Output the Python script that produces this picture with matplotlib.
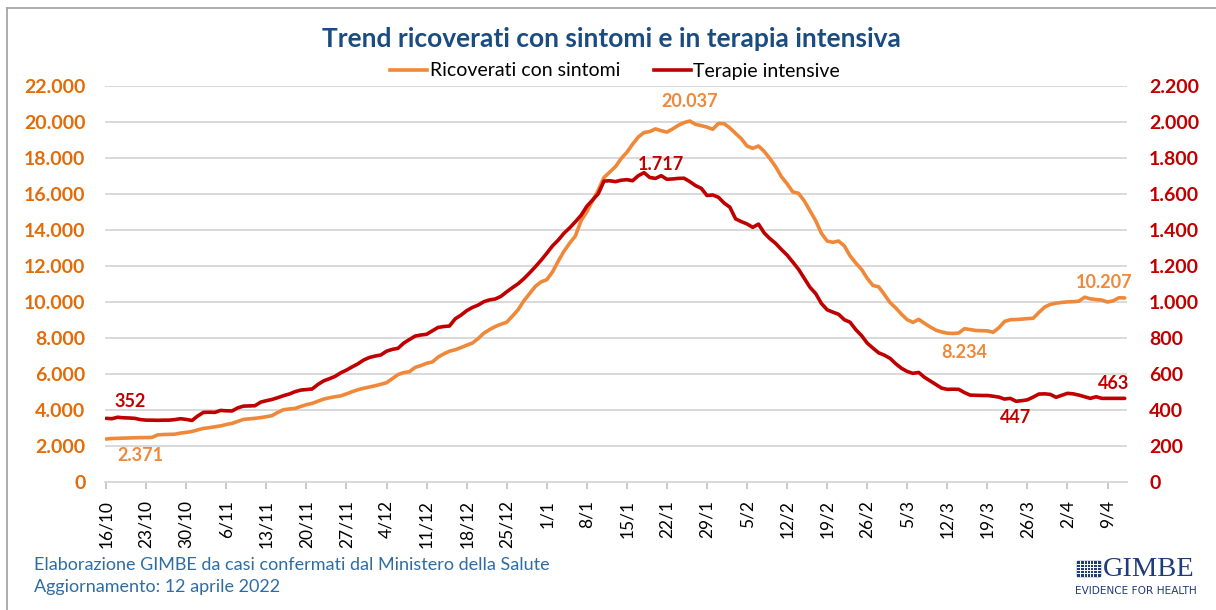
import matplotlib
matplotlib.use("Agg")
import matplotlib.pyplot as plt
from matplotlib.lines import Line2D
from matplotlib.patches import Rectangle
import pandas as pd

plt.rcParams['font.family'] = ['Lato', 'DejaVu Sans']

# daily values 16/10/2021 - 12/4/2022
dates = pd.date_range('2021-10-16', '2022-04-12', freq='D')

ricoverati = [
    2371, 2400, 2410, 2420, 2430, 2440, 2450, 2450, 2460, 2600,
    2620, 2630, 2640, 2700, 2740, 2790, 2880, 2960, 3000, 3050,
    3100, 3180, 3240, 3350, 3460, 3490, 3520, 3560, 3610, 3670,
    3850, 4000, 4040, 4070, 4180, 4280, 4350, 4470, 4590, 4660,
    4720, 4770, 4880, 5000, 5110, 5190, 5260, 5330, 5410, 5500,
    5720, 5950, 6060, 6110, 6350, 6450, 6580, 6650, 6920, 7100,
    7250, 7330, 7450, 7580, 7700, 7950, 8250, 8450, 8620, 8750,
    8860, 9200, 9560, 10050, 10450, 10850, 11100, 11220, 11650, 12250,
    12800, 13250, 13650, 14500, 15000, 15600, 16200, 16900, 17200, 17500,
    17950, 18300, 18750, 19150, 19400, 19450, 19600, 19500, 19420, 19600,
    19800, 19950, 20037, 19850, 19780, 19700, 19580, 19900, 19890, 19650,
    19350, 19050, 18650, 18520, 18650, 18350, 17950, 17500, 16950, 16550,
    16100, 16020, 15600, 15050, 14500, 13800, 13370, 13300, 13370, 13100,
    12550, 12150, 11800, 11300, 10900, 10830, 10400, 9950, 9650, 9300,
    9000, 8850, 9020, 8800, 8600, 8420, 8320, 8250, 8234, 8260,
    8500, 8450, 8400, 8390, 8380, 8300, 8550, 8900, 9000, 9010,
    9030, 9060, 9080, 9400, 9700, 9850, 9920, 9960, 9990, 10000,
    10030, 10250, 10160, 10120, 10090, 9980, 10050, 10220, 10207,
]

terapie = [
    352, 350, 358, 355, 354, 352, 345, 342, 342, 341,
    342, 342, 345, 350, 346, 340, 365, 385, 386, 385,
    396, 394, 393, 410, 420, 421, 422, 442, 450, 457,
    467, 478, 487, 500, 509, 512, 515, 540, 560, 572,
    585, 605, 620, 638, 655, 676, 690, 698, 704, 725,
    735, 741, 770, 790, 809, 815, 819, 838, 857, 862,
    865, 905, 925, 950, 968, 981, 1000, 1010, 1015, 1030,
    1055, 1078, 1100, 1128, 1160, 1194, 1230, 1269, 1310, 1342,
    1380, 1410, 1444, 1480, 1530, 1565, 1600, 1670, 1672, 1667,
    1675, 1678, 1672, 1700, 1717, 1690, 1685, 1700, 1680, 1682,
    1685, 1686, 1667, 1645, 1630, 1590, 1593, 1580, 1548, 1525,
    1460, 1445, 1432, 1413, 1431, 1382, 1350, 1324, 1290, 1259,
    1220, 1180, 1130, 1080, 1045, 990, 955, 942, 930, 900,
    886, 845, 812, 770, 742, 716, 703, 685, 655, 630,
    612, 602, 607, 580, 560, 540, 520, 513, 514, 513,
    495, 481, 480, 479, 479, 475, 470, 459, 463, 447,
    450, 455, 470, 487, 488, 485, 469, 480, 491, 488,
    481, 472, 463, 472, 463, 463, 463, 463, 463,
]

orange = '#F0883A'
red = '#C00000'
grid_c = '#D9D9D9'


def it_fmt(v):
    return f"{int(round(v)):,}".replace(',', '.')


days = list(range(len(dates)))

fig = plt.figure(figsize=(12.16, 6.10), dpi=100)
ax = fig.add_axes([105 / 1216, 1 - 481.7 / 610, (1127 - 105) / 1216, 396 / 610])
ax2 = ax.twinx()

ax.plot(days, ricoverati, color=orange, lw=2.6, solid_capstyle='round')
ax2.plot(days, terapie, color=red, lw=2.6, solid_capstyle='round')

ax.set_xlim(-0.2, 178.4)
ax.set_ylim(0, 22000)
ax2.set_ylim(0, 2200)

ax.set_yticks(range(0, 22001, 2000))
ax.set_yticklabels([it_fmt(v) for v in range(0, 22001, 2000)])
ax2.set_yticks(range(0, 2201, 200))
ax2.set_yticklabels([it_fmt(v) for v in range(0, 2201, 200)])

xt = days[::7]
ax.set_xticks(xt)
ax.set_xticklabels([f"{dates[i].day}/{dates[i].month}" for i in xt], rotation=90)

ax.yaxis.grid(True, color=grid_c, lw=1.4)
ax.set_axisbelow(True)
for a in (ax, ax2):
    for s in ('top', 'left', 'right', 'bottom'):
        a.spines[s].set_visible(False)
ax.spines['bottom'].set_visible(True)
ax.spines['bottom'].set_color(grid_c)
ax.spines['bottom'].set_linewidth(1.4)

ax.tick_params(axis='y', length=0, pad=14, labelsize=14, labelcolor='#E36C09')
ax2.tick_params(axis='y', length=0, pad=16, labelsize=14, labelcolor=red)
for lab in ax.get_yticklabels() + ax2.get_yticklabels():
    lab.set_fontweight('bold')
ax.tick_params(axis='x', direction='out', length=5, width=1.2, color='#BFBFBF',
               pad=8, labelsize=12.5, labelcolor='#000000')


# point labels
def lab(a, i, vals, dx, dy, color):
    a.annotate(it_fmt(vals[i]), xy=(i, vals[i]), xytext=(dx, dy),
               textcoords='offset points', ha='center', va='center',
               fontsize=13, fontweight='bold', color=color)


lab(ax2, 0, terapie, 17, 12, red)
lab(ax, 0, ricoverati, 25, -12, orange)
lab(ax, 102, ricoverati, 0, 14, orange)
lab(ax2, 94, terapie, 12, 6, red)
lab(ax, 148, ricoverati, 8, -14, orange)
lab(ax2, 159, terapie, 0, -12, red)
lab(ax, 178, ricoverati, -15, 11, orange)
lab(ax2, 178, terapie, -8, 11, red)

# legend
handles = [Line2D([], [], color=orange, lw=2.6), Line2D([], [], color=red, lw=2.6)]
fig.legend(handles, ['Ricoverati con sintomi', 'Terapie intensive'],
           loc='center', bbox_to_anchor=(0.506, 1 - 71 / 610), ncol=2,
           frameon=False, fontsize=14, handlelength=1.9, handletextpad=0.15,
           columnspacing=1.7)

fig.text(0.503, 1 - 39 / 610, 'Trend ricoverati con sintomi e in terapia intensiva',
         ha='center', va='center', fontsize=19, fontweight='bold', color='#1A4C80')

fig.text(34 / 1216, 1 - 565 / 610,
         'Elaborazione GIMBE da casi confermati dal Ministero della Salute',
         ha='left', va='center', fontsize=13, color='#2E6DA4')
fig.text(34 / 1216, 1 - 587 / 610, 'Aggiornamento: 12 aprile 2022',
         ha='left', va='center', fontsize=13, color='#2E6DA4')

# frame
fig.add_artist(Line2D([7 / 1216, 1], [1 - 8 / 610] * 2, color='#A6A6A6', lw=1.3,
                      transform=fig.transFigure))
fig.add_artist(Line2D([7 / 1216] * 2, [0, 1 - 8 / 610], color='#A6A6A6', lw=1.3,
                      transform=fig.transFigure))

# GIMBE logo
navy = '#1F3C78'
fig.add_artist(Rectangle((1077 / 1216, 1 - 576 / 610), 23 / 1216, 15 / 610,
                         color=navy, transform=fig.transFigure))
for c in range(1, 7):
    fig.add_artist(Line2D([(1077 + c * 23 / 7) / 1216] * 2, [1 - 576 / 610, 1 - 561 / 610],
                          color='white', lw=0.7, transform=fig.transFigure))
for r in range(1, 5):
    fig.add_artist(Line2D([1077 / 1216, 1100 / 1216], [1 - (561 + r * 3) / 610] * 2,
                          color='white', lw=0.7, transform=fig.transFigure))
fig.text(1103 / 1216, 1 - 576 / 610, 'GIMBE', ha='left', va='baseline',
         fontsize=20.5, color=navy, family='Liberation Serif')
fig.text(1136 / 1216, 1 - 591 / 610, 'EVIDENCE FOR HEALTH', ha='center', va='center',
         fontsize=7.6, color=navy, family='DejaVu Sans')

fig.savefig('out.png', dpi=100)
